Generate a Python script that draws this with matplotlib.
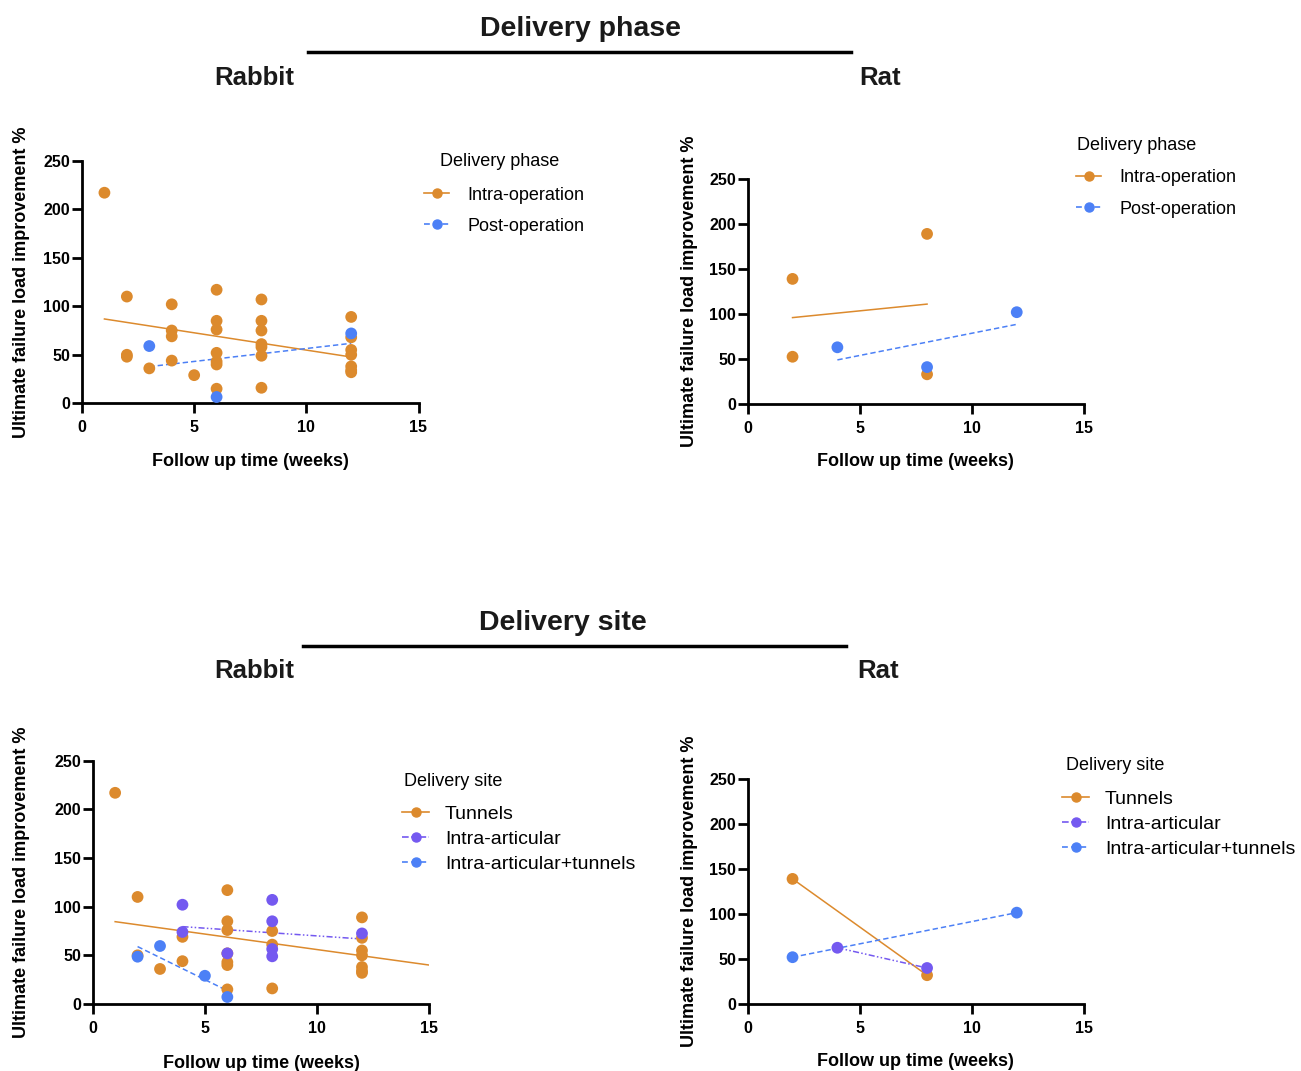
import numpy as np
import matplotlib.pyplot as plt
from matplotlib.lines import Line2D

plt.rcParams['font.family'] = ['Liberation Sans', 'DejaVu Sans']

W, H = 1301, 1071

orange = '#dc8a2d'
purple = '#7459f0'
blue = '#4c80f6'

# ---- Delivery phase, rabbit ----
rb_intra_x = [1, 2, 2, 2, 3, 4, 4, 4, 4, 5, 6, 6, 6, 6, 6, 6, 6,
              8, 8, 8, 8, 8, 8, 8, 12, 12, 12, 12, 12, 12, 12]
rb_intra_y = [217, 110, 50, 48, 36, 102, 75, 69, 44, 29, 117, 85, 76, 52, 43, 40, 15,
              107, 85, 75, 61, 58, 49, 16, 89, 68, 55, 50, 38, 34, 32]
rb_post_x = [3, 6, 12]
rb_post_y = [59, 6.5, 72]
# regression lines (x ends, y ends)
rb_intra_fit = ([1, 12], [86.9, 47.7])
rb_post_fit = ([3, 12], [37.8, 61.8])

# ---- Delivery phase, rat ----
rt_intra_x = [2, 2, 8, 8]
rt_intra_y = [139, 52.5, 189, 33]
rt_post_x = [4, 8, 12]
rt_post_y = [63, 41, 102]
rt_intra_fit = ([2, 8], [96, 111])
rt_post_fit = ([4, 12], [49, 88.5])

# ---- Delivery site, rabbit ----
rb_tun_x = [1, 2, 2, 3, 4, 4, 6, 6, 6, 6, 6, 6, 6, 8, 8, 8, 12, 12, 12, 12, 12, 12, 12]
rb_tun_y = [217, 110, 50, 36, 69, 44, 117, 85, 76, 52, 43, 40, 15, 75, 61, 16,
            89, 68, 55, 50, 38, 34, 32]
rb_ia_x = [4, 4, 6, 8, 8, 8, 8, 12]
rb_ia_y = [102, 74, 52, 107, 85, 56.5, 49, 72.5]
rb_iat_x = [2, 3, 5, 6]
rb_iat_y = [48.6, 59.6, 29, 7.2]
rb_tun_fit = ([1, 15], [84.6, 40])
rb_ia_fit = ([4, 12], [79.5, 66.8])
rb_iat_fit = ([2, 6], [59, 13.7])

# ---- Delivery site, rat ----
rt_tun_x = [2, 8]
rt_tun_y = [139, 32]
rt_ia_x = [4, 8]
rt_ia_y = [62.5, 40]
rt_iat_x = [2, 12]
rt_iat_y = [52, 101.5]
rt_tun_fit = (rt_tun_x, rt_tun_y)
rt_ia_fit = (rt_ia_x, rt_ia_y)
rt_iat_fit = (rt_iat_x, rt_iat_y)

phase_labels = ['Intra-operation', 'Post-operation']
site_labels = ['Tunnels', 'Intra-articular', 'Intra-articular+tunnels']

styles = {
    'Intra-operation': (orange, '-'),
    'Post-operation': (blue, (0, (3.5, 2))),
    'Tunnels': (orange, '-'),
    'Intra-articular': (purple, (0, (4, 1.5, 1, 1.5, 1, 1.5))),
    'Intra-articular+tunnels': (blue, (0, (3.5, 2))),
}

fig = plt.figure(figsize=(W / 100, H / 100), dpi=100)


def add_ax(left, top, right, bottom):
    return fig.add_axes([left / W, 1 - bottom / H, (right - left) / W, (bottom - top) / H])


def style_ax(ax, ylab_px, xlab_px, box):
    left, top, right, bottom = box
    ax.set_xlim(0, 15)
    ax.set_ylim(0, 250)
    ax.set_xticks([0, 5, 10, 15])
    ax.set_yticks([0, 50, 100, 150, 200, 250])
    for s in ['top', 'right']:
        ax.spines[s].set_visible(False)
    for s in ['left', 'bottom']:
        ax.spines[s].set_linewidth(2)
    ax.tick_params(axis='both', length=7, width=2, labelsize=11.5)
    ax.tick_params(axis='y', pad=1.5)
    ax.tick_params(axis='x', pad=5)
    for t in ax.get_xticklabels() + ax.get_yticklabels():
        t.set_fontweight('bold')
    ax.set_xlabel('Follow up time (weeks)', fontsize=13, fontweight='bold')
    ax.set_ylabel('Ultimate failure load improvement %', fontsize=13, fontweight='bold')
    ax.yaxis.set_label_coords((ylab_px - left) / (right - left), 0.5)
    ax.xaxis.set_label_coords(0.5, (bottom - xlab_px) / (bottom - top))


def draw(ax, series):
    for lab, x, y, fit in series:
        c, ls = styles[lab]
        ax.plot(fit[0], fit[1], color=c, ls=ls, lw=1.1, zorder=2)
    for lab, x, y, fit in series:
        c, ls = styles[lab]
        ax.scatter(x, y, s=72, color=c, edgecolors='none', zorder=3, clip_on=False)


def legend(ax, labels, title, left, row_top, fs, spacing, textpad, title_x, title_y):
    handles = [Line2D([], [], color=styles[l][0], ls=styles[l][1], lw=1.2,
                      marker='o', markersize=6.5) for l in labels]
    ax.legend(handles, labels, loc='upper left', bbox_to_anchor=(left / W, 1 - row_top / H),
              bbox_transform=fig.transFigure, frameon=False, borderpad=0, borderaxespad=0,
              fontsize=fs, labelspacing=spacing, handlelength=1.4, handletextpad=textpad)
    fig.text(title_x / W, 1 - title_y / H, title, fontsize=13, ha='left', va='center')


# top-left
box = (82, 160.7, 418.5, 403.3)
ax1 = add_ax(*box)
draw(ax1, [('Intra-operation', rb_intra_x, rb_intra_y, rb_intra_fit),
           ('Post-operation', rb_post_x, rb_post_y, rb_post_fit)])
style_ax(ax1, 30, 453, box)
legend(ax1, phase_labels, 'Delivery phase', 424, 186.5, 13, 0.78, 1.0, 440, 162)

# top-right
box = (747.7, 179, 1084, 404)
ax2 = add_ax(*box)
draw(ax2, [('Intra-operation', rt_intra_x, rt_intra_y, rt_intra_fit),
           ('Post-operation', rt_post_x, rt_post_y, rt_post_fit)])
style_ax(ax2, 698, 453, box)
legend(ax2, phase_labels, 'Delivery phase', 1076, 169.5, 13, 0.78, 1.0, 1077, 146)

# bottom-left
box = (92.7, 760.7, 429.3, 1004)
ax3 = add_ax(*box)
draw(ax3, [('Tunnels', rb_tun_x, rb_tun_y, rb_tun_fit),
           ('Intra-articular', rb_ia_x, rb_ia_y, rb_ia_fit),
           ('Intra-articular+tunnels', rb_iat_x, rb_iat_y, rb_iat_fit)])
style_ax(ax3, 30, 1055, box)
legend(ax3, site_labels, 'Delivery site', 402, 805, 14, 0.39, 0.8, 404, 782)

# bottom-right
box = (747.7, 779, 1084, 1004)
ax4 = add_ax(*box)
draw(ax4, [('Tunnels', rt_tun_x, rt_tun_y, rt_tun_fit),
           ('Intra-articular', rt_ia_x, rt_ia_y, rt_ia_fit),
           ('Intra-articular+tunnels', rt_iat_x, rt_iat_y, rt_iat_fit)])
style_ax(ax4, 698, 1053, box)
legend(ax4, site_labels, 'Delivery site', 1062, 790, 14, 0.39, 0.8, 1066, 766)

# headers
hc = '#1a1a1a'
fig.text(580 / W, 1 - 29 / H, 'Delivery phase', fontsize=20.5, fontweight='bold', ha='center', va='center', color=hc)
fig.add_artist(Line2D([308 / W, 851 / W], [1 - 52 / H, 1 - 52 / H], color='black', lw=2.5))
fig.text(254 / W, 1 - 78 / H, 'Rabbit', fontsize=18.5, fontweight='bold', ha='center', va='center', color=hc)
fig.text(880 / W, 1 - 78 / H, 'Rat', fontsize=18.5, fontweight='bold', ha='center', va='center', color=hc)

fig.text(563 / W, 1 - 623 / H, 'Delivery site', fontsize=20.5, fontweight='bold', ha='center', va='center', color=hc)
fig.add_artist(Line2D([303 / W, 846 / W], [1 - 646 / H, 1 - 646 / H], color='black', lw=2.5))
fig.text(254 / W, 1 - 671 / H, 'Rabbit', fontsize=18.5, fontweight='bold', ha='center', va='center', color=hc)
fig.text(878 / W, 1 - 671 / H, 'Rat', fontsize=18.5, fontweight='bold', ha='center', va='center', color=hc)

fig.savefig('out.png', dpi=100)
